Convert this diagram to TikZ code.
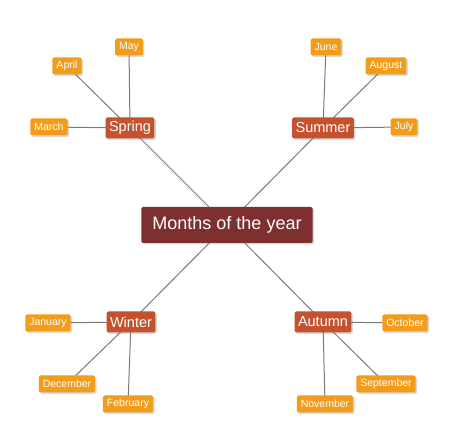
\documentclass[tikz,border=0pt]{standalone}
\usepackage{fontspec}
\setmainfont{Liberation Sans}
\usetikzlibrary{shadows}
\definecolor{rootred}{HTML}{7E2F2F}
\definecolor{seasonred}{HTML}{C4522E}
\definecolor{monthorange}{HTML}{F39C1A}
\definecolor{linkgray}{HTML}{7A7A7A}
\tikzset{
  box/.style={rounded corners=1.5pt,text=white,inner ysep=0pt,
    drop shadow={shadow xshift=1.5pt,shadow yshift=-1.5pt,opacity=0.3}},
  root/.style={box,fill=rootred,font=\fontsize{18}{20}\selectfont,minimum height=36pt,inner xsep=11pt},
  season/.style={box,fill=seasonred,font=\fontsize{14.5}{16}\selectfont,minimum height=21pt,inner xsep=3.5pt},
  month/.style={box,fill=monthorange,font=\fontsize{10.5}{12}\selectfont,minimum height=17pt,inner xsep=4pt},
  link/.style={draw=linkgray,line width=1pt}
}
\begin{document}
\begin{tikzpicture}[x=1pt,y=1pt]
\useasboundingbox (0,0) rectangle (467,432);
% Draw links
  \coordinate (rootpos) at (227,207);
  \foreach \i/\j/\k in {130/304/Spring, 323/304/Summer, 131/110/Winter, 323/110/Autumn} {
    \coordinate (\k pos) at (\i,\j);
    \draw[link] (rootpos) -- (\k pos);
  }
  \foreach \i/\j/\k/\s in {129/385/May/Spring, 67/366/April/Spring, 49/305/March/Spring,
      326/385/June/Summer, 386/366/August/Summer, 404/305/July/Summer,
      48/109/January/Winter, 67/48/December/Winter, 128/28/February/Winter,
      405/109/October/Autumn, 386/48/September/Autumn, 325/28/November/Autumn} {
    \coordinate (\k pos) at (\i,\j);
    \draw[link] (\s pos) -- (\k pos);
  }
% Draw boxes
  \foreach \k in {Spring, Summer, Winter, Autumn} {
    \node[season] (\k) at (\k pos) {\k};
  }
  \foreach \k in {May, April, March, June, August, July, January, December, February, October, September, November} {
    \node[month] (\k) at (\k pos) {\k};
  }
  \node[root] (root) at (rootpos) {Months of the year};
\end{tikzpicture}
\end{document}
